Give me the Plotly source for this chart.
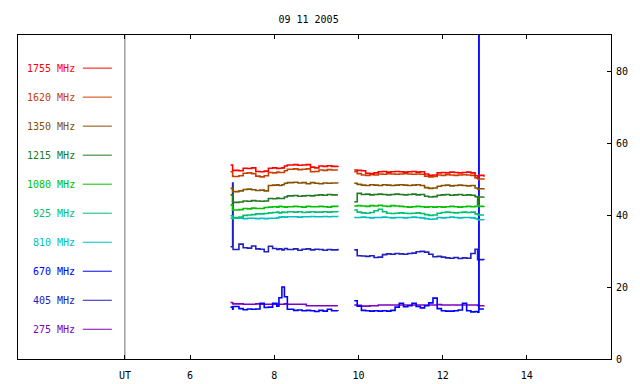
import plotly.graph_objects as go

# ---- data ----
freqs = ["1755 MHz", "1620 MHz", "1350 MHz", "1215 MHz", "1080 MHz",
         "925 MHz", "810 MHz", "670 MHz", "405 MHz", "275 MHz"]
colors = ["#ff0000", "#c84000", "#865200", "#227a22", "#00c000",
          "#00c070", "#00c0c0", "#0000ff", "#2020c0", "#8000c0"]

T1 = [6.96, 7.01, 7.02, 7.16, 7.26, 7.36, 7.46, 7.56, 7.66, 7.76, 7.86, 7.96, 8.06, 8.11,
      8.18, 8.24, 8.31, 8.46, 8.56, 8.66, 8.76, 8.86, 8.96, 9.06, 9.16, 9.26, 9.36, 9.51]
T2 = [9.90, 9.97, 10.07, 10.17, 10.27, 10.37, 10.47, 10.57, 10.67, 10.77, 10.87, 10.97,
      11.07, 11.17, 11.27, 11.37, 11.47, 11.57, 11.67, 11.77, 11.87, 11.97, 12.07, 12.17,
      12.27, 12.37, 12.47, 12.57, 12.67, 12.77, 12.83, 12.86, 12.865, 12.98]

f1755_a = [53.9, 52.3, 52.4, 52.3, 53.0, 52.9, 53.1, 52.1, 52.0, 52.2, 53.0, 53.1, 52.9, 53.0,
           53.1, 53.6, 53.9, 54.0, 53.8, 53.9, 54.0, 53.3, 53.1, 53.6, 53.5, 53.7, 53.5, 53.6]
f1755_b = [52.5, 52.4, 52.3, 51.6, 51.5, 51.7, 52.0, 52.1, 51.9, 52.0, 52.1, 52.0, 51.9, 52.0,
           52.1, 51.9, 52.0, 51.4, 51.0, 51.1, 51.7, 51.8, 51.7, 51.9, 51.8, 51.7, 51.8, 51.9,
           51.7, 50.9, 50.7, 50.8, 51.0, 50.6]

f1620_a = [52.0, 50.8, 50.7, 50.9, 51.6, 51.7, 51.5, 50.8, 50.6, 50.9, 51.8, 51.7, 51.9, 51.8,
           51.8, 52.3, 52.7, 52.8, 52.6, 52.7, 52.8, 52.0, 52.1, 52.5, 52.4, 52.6, 52.5, 52.5]
f1620_b = [52.0, 51.5, 51.1, 51.0, 51.2, 51.1, 51.4, 51.3, 51.5, 51.4, 51.3, 51.4, 51.5, 51.4,
           51.3, 51.4, 51.3, 50.8, 50.6, 50.7, 51.1, 51.0, 51.2, 51.1, 51.0, 51.1, 51.2, 51.1,
           51.0, 50.3, 50.0, 49.8, 50.0, 49.8]

f1350_a = [47.4, 46.4, 46.5, 46.7, 47.1, 47.2, 47.0, 46.8, 46.9, 46.7, 48.2, 48.3, 48.4, 48.2,
           48.4, 48.8, 49.0, 49.1, 48.9, 49.0, 48.7, 49.0, 48.8, 48.7, 48.9, 48.8, 48.9, 48.8]
f1350_b = [48.8, 48.5, 48.3, 48.2, 48.4, 48.3, 48.2, 48.4, 48.3, 48.2, 48.3, 48.4, 48.3, 48.2,
           48.3, 48.4, 48.2, 47.6, 47.4, 47.5, 48.0, 48.2, 48.3, 48.1, 48.2, 48.3, 48.2, 48.1,
           48.2, 47.5, 47.2, 47.1, 47.3, 47.1]

f1215_a = [45.6, 43.4, 43.5, 43.6, 43.9, 43.8, 44.0, 43.9, 43.8, 43.9, 44.6, 44.5, 44.7, 44.6,
           44.6, 45.0, 45.3, 45.4, 45.2, 45.3, 45.4, 45.3, 45.5, 45.6, 45.5, 45.7, 45.6, 45.6]
f1215_b = [43.7, 46.0, 45.7, 45.8, 45.6, 45.7, 45.8, 45.7, 45.6, 45.7, 45.8, 45.7, 45.6, 45.7,
           45.8, 45.6, 45.7, 45.2, 45.0, 45.1, 45.5, 45.6, 45.7, 45.5, 45.6, 45.7, 45.5, 45.6,
           45.5, 45.1, 43.0, 45.2, 45.0, 45.1]

f1080_a = [42.8, 41.3, 41.4, 41.5, 41.8, 41.7, 41.9, 41.8, 41.8, 42.1, 42.2, 42.3, 42.2, 42.4,
           42.3, 42.2, 42.3, 42.4, 42.3, 42.2, 42.4, 42.3, 42.3, 42.4, 42.3, 42.2, 42.4, 42.3]
f1080_b = [42.5, 42.6, 42.5, 42.4, 42.6, 42.5, 42.7, 42.5, 42.4, 42.6, 42.5, 42.4, 42.3, 42.2,
           42.3, 42.4, 42.3, 42.2, 42.3, 42.2, 42.3, 42.2, 42.3, 42.4, 42.3, 42.2, 42.3, 42.4,
           42.3, 42.4, 42.5, 42.6, 42.4, 42.5]

f925_a = [39.8, 39.2, 39.3, 39.4, 39.9, 40.0, 40.1, 40.3, 40.3, 40.4, 40.6, 40.7, 40.8, 40.6,
          40.8, 40.7, 40.9, 40.8, 40.9, 40.7, 40.8, 40.9, 40.8, 40.8, 40.9, 40.8, 40.9, 40.8]
f925_b = [41.4, 40.8, 40.6, 40.5, 40.7, 41.2, 41.6, 40.9, 40.5, 40.4, 40.5, 40.6, 40.5, 40.4,
          40.5, 40.6, 40.4, 40.1, 39.9, 40.0, 40.5, 40.7, 40.8, 40.7, 40.6, 40.7, 40.8, 40.7,
          40.8, 40.3, 40.1, 40.0, 40.0, 40.0]

f810_a = [39.1, 39.0, 39.1, 39.1, 39.0, 39.1, 39.1, 39.0, 39.1, 39.0, 39.1, 39.1, 39.2, 39.4,
          39.5, 39.4, 39.5, 39.5, 39.4, 39.5, 39.5, 39.6, 39.5, 39.5, 39.6, 39.5, 39.6, 39.5]
f810_b = [39.3, 39.3, 39.4, 39.3, 39.2, 39.3, 39.3, 39.4, 39.3, 39.2, 39.3, 39.3, 39.2, 39.3,
          39.4, 39.3, 39.2, 39.0, 38.8, 38.9, 39.3, 39.2, 39.3, 39.4, 39.3, 39.2, 39.3, 39.3,
          39.2, 39.0, 38.7, 38.6, 38.7, 38.6]

f670_a = [14.4, 13.8, 14.6, 14.0, 13.7, 13.9, 13.8, 13.9, 15.5, 14.3, 14.4, 15.5, 14.7, 17.0,
          20.0, 17.3, 13.8, 13.5, 13.6, 13.4, 13.5, 13.4, 13.2, 13.5, 13.3, 13.8, 13.4, 13.3]
f670_b = [16.2, 14.7, 13.5, 13.4, 13.3, 13.4, 13.3, 13.4, 13.3, 13.5, 14.4, 15.5, 14.5, 14.8,
          15.5, 14.6, 14.2, 14.8, 15.6, 16.9, 14.0, 13.4, 13.3, 13.3, 13.4, 13.6, 15.5, 13.4,
          13.1, 13.2, 13.0, 95.0, 13.9, 13.9]

f405_a = [31.2, 48.9, 30.4, 31.9, 30.9, 30.8, 31.4, 30.6, 30.5, 29.8, 31.3, 30.7, 30.4, 30.6,
          30.3, 30.7, 30.4, 30.6, 30.2, 30.5, 30.6, 30.3, 30.5, 30.4, 30.2, 30.4, 30.3, 30.6]
f405_b = [30.3, 28.7, 28.6, 28.5, 28.7, 28.2, 28.3, 29.0, 29.2, 29.1, 29.3, 29.2, 29.1, 29.3,
          29.4, 29.8, 29.9, 29.7, 29.1, 28.4, 28.5, 28.3, 28.1, 28.0, 28.2, 27.9, 28.1, 28.0,
          29.3, 30.5, 27.6, 27.4, 27.6, 27.5]

f275_a = [15.7, 15.4, 15.3, 15.3, 15.2, 15.2, 15.2, 15.3, 15.2, 15.2, 15.2, 15.2, 15.2, 15.2,
          15.2, 15.3, 15.2, 15.2, 15.2, 15.2, 14.8, 14.8, 14.8, 14.8, 14.8, 14.8, 14.8, 14.8]
f275_b = [15.0, 14.9, 14.7, 14.7, 14.8, 14.8, 15.0, 15.0, 15.0, 15.0, 15.0, 15.0, 15.0, 15.0,
          15.0, 15.0, 15.0, 15.0, 15.0, 15.0, 15.1, 15.0, 15.0, 15.0, 15.0, 15.0, 15.0, 15.0,
          15.0, 15.0, 14.9, 15.0, 14.8, 14.9]

series = [(f1755_a, f1755_b), (f1620_a, f1620_b), (f1350_a, f1350_b), (f1215_a, f1215_b),
          (f1080_a, f1080_b), (f925_a, f925_b), (f810_a, f810_b), (f670_a, f670_b),
          (f405_a, f405_b), (f275_a, f275_b)]

x_ticks = [4.45, 6, 8, 10, 12, 14]
x_tick_text = ["UT", "6", "8", "10", "12", "14"]
y_ticks = [0, 20, 40, 60, 80]
title_text = "09 11 2005"
UT_POS = 4.45

FONT = "DejaVu Sans Mono"

fig = go.Figure()
order = [9, 8, 7, 6, 5, 4, 3, 2, 1, 0]
for i in order:
    a, b = series[i]
    fig.add_trace(go.Scatter(
        x=T1 + [None] + T2, y=a + [None] + b, mode="lines",
        line=dict(color=colors[i], width=1.6, shape="hv"),
        name=freqs[i], connectgaps=False, hoverinfo="skip", showlegend=False))

shapes = [dict(type="line", xref="x", yref="y", x0=UT_POS, x1=UT_POS, y0=0, y1=90,
               line=dict(color="#707070", width=1), layer="below")]
annotations = []
for i, name in enumerate(freqs):
    yy = 80.8 - i * 8.06
    annotations.append(dict(x=3.31, y=yy, xref="x", yref="y", text=name, showarrow=False,
                            xanchor="right", yanchor="middle",
                            font=dict(family=FONT, size=10, color=colors[i])))
    shapes.append(dict(type="line", xref="x", yref="y", x0=3.45, x1=4.14, y0=yy, y1=yy,
                       line=dict(color=colors[i], width=1)))

fig.update_layout(
    width=640, height=384,
    margin=dict(l=18, r=29, t=35, b=25, autoexpand=False),
    paper_bgcolor="white", plot_bgcolor="white",
    title=dict(text=title_text, x=0.49, xref="paper", y=0.95, yref="container",
               xanchor="center", yanchor="middle",
               font=dict(family=FONT, size=10, color="black")),
    shapes=shapes, annotations=annotations, showlegend=False,
    xaxis=dict(range=[1.91, 16.0], showgrid=False, zeroline=False, showline=True,
               linecolor="black", linewidth=1, mirror="ticks", ticks="inside", ticklen=4,
               tickcolor="black", tickvals=x_ticks, ticktext=x_tick_text,
               ticklabelstandoff=7, automargin=False,
               tickfont=dict(family=FONT, size=10, color="black")),
    yaxis=dict(range=[0, 90], showgrid=False, zeroline=False, showline=True,
               linecolor="black", linewidth=1, mirror=True, ticks="inside", ticklen=4,
               tickcolor="black", side="right", tickvals=y_ticks,
               ticklabelstandoff=2, automargin=False,
               tickfont=dict(family=FONT, size=10, color="black")),
)

fig.write_html("out.html", config={"displayModeBar": False},
               post_script="document.body.style.margin='0';document.body.style.padding='0';")
